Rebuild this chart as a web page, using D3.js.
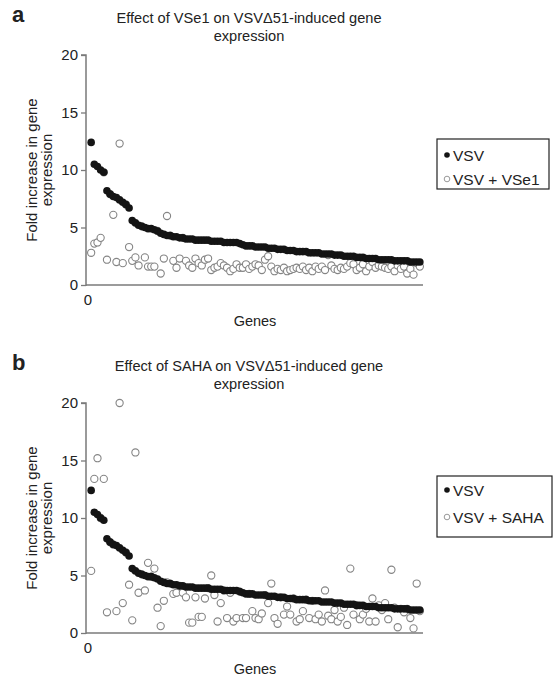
<!DOCTYPE html>
<html>
<head>
<meta charset="utf-8">
<script src="https://cdn.jsdelivr.net/npm/d3@7"></script>
<style>
  body { margin: 0; background: #fff; }
  svg text { font-family: "Liberation Sans", Arial, sans-serif; fill: #222; }
</style>
</head>
<body>
<div id="chart"></div>
<script>
// fold increase per gene, genes sorted by VSV response (same order in both panels)
let vsv = [
  12.4, 10.5, 10.3, 10.0, 9.8, 8.2, 7.9, 7.7, 7.6, 7.4,
  7.2, 7.0, 6.7, 5.6, 5.4, 5.2, 5.1, 5.0, 4.9, 4.9,
  4.8, 4.7, 4.5, 4.4, 4.3, 4.3, 4.2, 4.2, 4.1, 4.1,
  4.0, 4.0, 4.0, 3.9, 3.9, 3.9, 3.9, 3.9, 3.8, 3.8,
  3.8, 3.8, 3.7, 3.7, 3.7, 3.7, 3.7, 3.6, 3.5, 3.4,
  3.4, 3.4, 3.3, 3.3, 3.3, 3.3, 3.2, 3.2, 3.2, 3.1,
  3.1, 3.1, 3.0, 3.0, 3.0, 2.9, 2.9, 2.9, 2.9, 2.8,
  2.8, 2.8, 2.8, 2.7, 2.7, 2.7, 2.7, 2.6, 2.6, 2.6,
  2.5, 2.5, 2.5, 2.5, 2.4, 2.4, 2.4, 2.3, 2.3, 2.3,
  2.3, 2.2, 2.2, 2.2, 2.2, 2.2, 2.1, 2.1, 2.1, 2.1,
  2.1, 2.0, 2.0, 2.0, 2.0
];

let vse1 = [
  2.8, 3.6, 3.7, 4.1, 9.8, 2.2, 7.9, 6.1, 2.0, 12.3,
  1.9, 7.0, 3.3, 2.1, 2.4, 1.7, 5.1, 2.4, 1.6, 1.6,
  1.6, 4.7, 1.0, 2.3, 6.0, 4.3, 2.1, 1.5, 2.3, 4.1,
  2.1, 1.7, 1.5, 2.3, 1.9, 1.7, 2.2, 2.3, 1.3, 1.5,
  1.6, 1.9, 1.7, 1.5, 1.2, 1.4, 1.8, 1.5, 1.5, 1.8,
  1.4, 1.6, 1.8, 1.7, 1.3, 2.2, 2.5, 1.6, 1.2, 1.4,
  1.3, 1.5, 1.2, 1.3, 1.4, 1.5, 1.4, 1.6, 1.3, 1.5,
  1.2, 1.6, 1.4, 1.6, 1.3, 2.6, 1.7, 1.4, 1.3, 1.5,
  1.4, 1.6, 1.9, 1.8, 1.3, 1.5, 1.8, 1.2, 1.6, 2.0,
  1.5, 1.7, 1.6, 1.5, 1.4, 1.6, 1.2, 1.7, 1.4, 1.6,
  1.0, 1.4, 0.9, 1.9, 1.6
];

let saha = [
  5.4, 13.4, 15.2, 10.0, 13.4, 1.8, 7.9, 7.7, 1.9, 20.0,
  2.6, 7.0, 4.2, 1.1, 15.7, 3.5, 5.1, 3.7, 6.1, 4.9,
  5.6, 2.2, 0.6, 2.8, 4.4, 4.3, 3.4, 3.5, 4.1, 3.5,
  3.1, 0.9, 0.9, 3.1, 1.4, 1.4, 3.0, 3.9, 5.0, 3.3,
  1.0, 2.6, 3.7, 1.3, 3.5, 1.0, 1.3, 3.6, 1.3, 1.3,
  3.4, 1.9, 1.3, 1.2, 1.7, 3.3, 2.6, 4.3, 1.3, 0.8,
  3.1, 1.6, 2.3, 1.6, 3.0, 1.0, 1.2, 1.9, 2.9, 1.3,
  2.8, 1.2, 1.6, 1.0, 3.7, 1.5, 1.2, 2.0, 1.0, 1.4,
  2.2, 0.7, 5.6, 1.6, 2.4, 1.2, 1.6, 2.1, 1.0, 3.0,
  1.0, 2.4, 2.0, 2.6, 1.2, 5.5, 2.2, 0.5, 2.1, 1.8,
  2.1, 1.3, 0.4, 4.3, 1.9
];

let yTicks = [0, 5, 10, 15, 20];

let panels = [
  { letter: "a", title: ["Effect of VSe1 on VSV\u039451-induced gene", "expression"],
    other: vse1, otherName: "VSV + VSe1", top: 0,
    legendTop: 139, legendW: 112, legendH: 50, legendRows: [155, 179] },
  { letter: "b", title: ["Effect of SAHA on VSV\u039451-induced gene", "expression"],
    other: saha, otherName: "VSV + SAHA", top: 348,
    legendTop: 476, legendW: 115, legendH: 61, legendRows: [490, 517] }
];

let svg = d3.select("#chart").append("svg")
  .attr("width", 557)
  .attr("height", 681);

let axisColor = "#7a7a7a";
let n = vsv.length;

panels.forEach(function(p) {
  let g = svg.append("g").attr("transform", "translate(0," + p.top + ")");

  let x = d3.scaleLinear().domain([0, n + 1]).range([88, 423]);
  let y = d3.scaleLinear().domain([0, 20]).range([285, 55]);

  g.append("text")
    .attr("x", 12).attr("y", 22)
    .style("font-size", "22px").style("font-weight", "bold")
    .text(p.letter);

  g.selectAll(".title")
    .data(p.title)
    .enter().append("text")
    .attr("x", 249)
    .attr("y", (d, i) => 23 + i * 18)
    .attr("text-anchor", "middle")
    .style("font-size", "14.6px")
    .text(d => d);

  // y axis
  let yAxis = g.append("g")
    .attr("transform", "translate(86,0)")
    .call(d3.axisLeft(y).tickValues(yTicks).tickSize(5).tickPadding(3));
  yAxis.select(".domain").attr("stroke", axisColor).attr("stroke-width", 1.5)
    .attr("d", "M-5," + y(20) + "H0V" + (y(0) + 1));
  yAxis.selectAll(".tick line").attr("stroke", axisColor).attr("stroke-width", 1.3);
  yAxis.selectAll(".tick text")
    .style("font-size", "15px")
    .style("font-family", "'Liberation Sans', Arial, sans-serif")
    .attr("fill", "#222");

  // x axis
  g.append("line")
    .attr("x1", 86).attr("x2", 423)
    .attr("y1", y(0)).attr("y2", y(0))
    .attr("stroke", axisColor).attr("stroke-width", 1.5);
  g.append("text")
    .attr("x", x(0)).attr("y", y(0) + 20)
    .attr("text-anchor", "middle")
    .style("font-size", "15px")
    .text("0");
  g.append("text")
    .attr("x", 255).attr("y", y(0) + 41)
    .attr("text-anchor", "middle")
    .style("font-size", "14.5px")
    .text("Genes");

  // y label
  let yl = g.append("text")
    .attr("transform", "translate(0," + y(10) + ") rotate(-90)")
    .attr("text-anchor", "middle")
    .style("font-size", "15px");
  yl.append("tspan").attr("x", 0).attr("y", 37).text("Fold increase in gene");
  yl.append("tspan").attr("x", 0).attr("y", 52).text("expression");

  // treated series drawn under the VSV dots
  g.selectAll(".open")
    .data(p.other)
    .enter().append("circle")
    .attr("class", "open")
    .attr("cx", (d, i) => x(i + 1))
    .attr("cy", d => y(d))
    .attr("r", 3.6)
    .attr("fill", "#fff")
    .attr("stroke", "#858585")
    .attr("stroke-width", 1.1);

  g.selectAll(".filled")
    .data(vsv)
    .enter().append("circle")
    .attr("class", "filled")
    .attr("cx", (d, i) => x(i + 1))
    .attr("cy", d => y(d))
    .attr("r", 3.8)
    .attr("fill", "#141414");

  // legend
  let lg = g.append("g");
  lg.append("rect")
    .attr("x", 437).attr("y", p.legendTop - p.top)
    .attr("width", p.legendW).attr("height", p.legendH)
    .attr("fill", "none").attr("stroke", "#222").attr("stroke-width", 1.2);
  let items = [{ name: "VSV", filled: true }, { name: p.otherName, filled: false }];
  items.forEach(function(it, i) {
    let cy = p.legendRows[i] - p.top;
    lg.append("circle")
      .attr("cx", 447).attr("cy", cy)
      .attr("r", 2.8)
      .attr("fill", it.filled ? "#141414" : "#fff")
      .attr("stroke", it.filled ? "none" : "#999")
      .attr("stroke-width", 1);
    lg.append("text")
      .attr("x", 453).attr("y", cy + 5.5)
      .style("font-size", "15.5px")
      .text(it.name);
  });
});
</script>
</body>
</html>
